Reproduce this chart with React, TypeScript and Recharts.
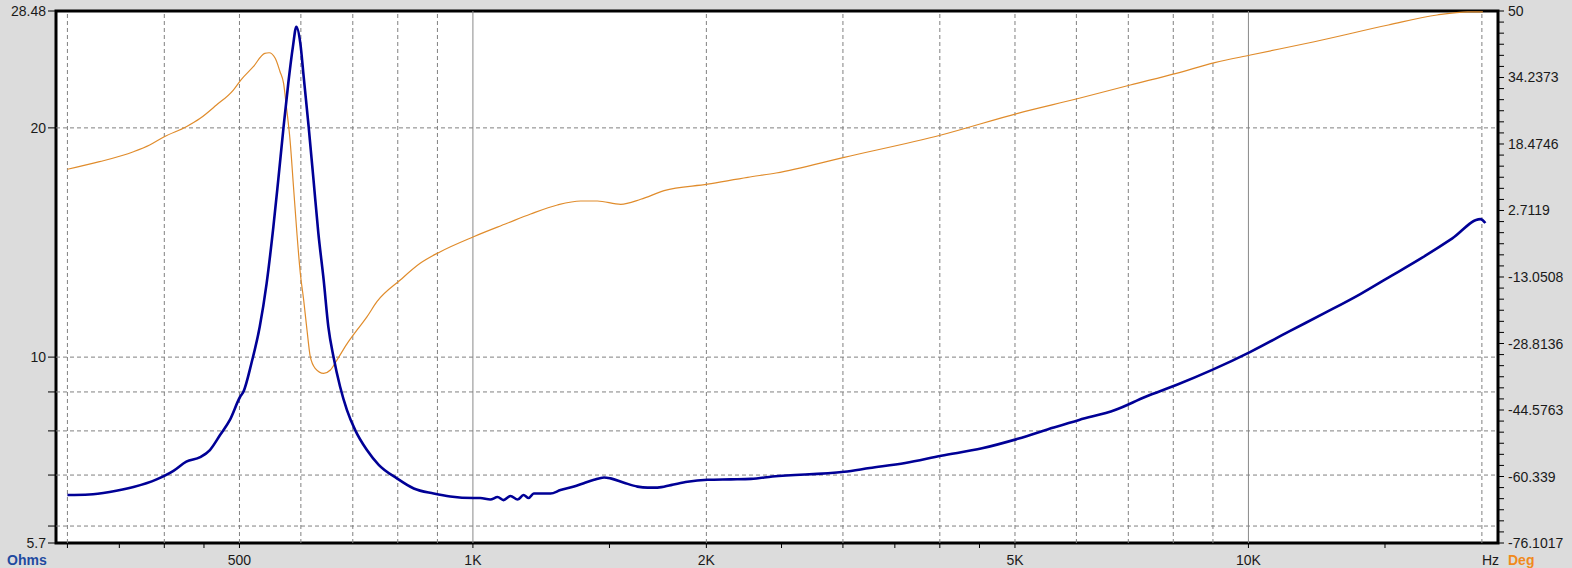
import React from 'react';
import {
    LineChart,
    Line,
    XAxis,
    YAxis,
    CartesianGrid,
    ReferenceLine,
    ReferenceArea
} from 'recharts';

// impedance curve (Ohms)
const impFreq = [
    300, 320, 340, 365, 391, 411, 427, 445, 458, 472,
    486, 501, 506, 518, 531, 542, 553, 561, 570, 578,
    586, 592, 599, 605, 614, 623, 632, 642, 651, 661,
    674, 688, 705, 730, 756, 798, 839, 890, 935, 1002,
    1022, 1053, 1076, 1095, 1118, 1142, 1162, 1180, 1198, 1259,
    1297, 1350, 1390, 1433, 1476, 1505, 1566, 1630, 1680, 1730,
    1800, 1891, 2007, 2151, 2283, 2433, 3011, 3248, 3610, 4016,
    4535, 5042, 5608, 6050, 6729, 7369, 8072, 8979, 10060, 11270,
    12530, 13940, 15150, 16730, 18320, 19910, 20210
];
const impOhms = [
    6.59, 6.6, 6.65, 6.75, 6.91, 7.09, 7.29, 7.39, 7.55, 7.9,
    8.27, 8.87, 9.01, 9.81, 10.96, 12.5, 14.84, 17.08, 20.07, 22.89,
    25.57, 27.16, 25.84, 23.35, 20.07, 17.08, 14.54, 12.63, 10.96, 10.01,
    9.15, 8.52, 8.02, 7.55, 7.22, 6.93, 6.72, 6.62, 6.56, 6.53,
    6.53, 6.5, 6.55, 6.49, 6.57, 6.5, 6.59, 6.53, 6.62, 6.62,
    6.69, 6.76, 6.83, 6.9, 6.95, 6.93, 6.84, 6.76, 6.74, 6.74,
    6.79, 6.86, 6.9, 6.91, 6.92, 6.97, 7.07, 7.15, 7.26, 7.42,
    7.59, 7.81, 8.08, 8.27, 8.52, 8.87, 9.19, 9.62, 10.16, 10.8,
    11.42, 12.1, 12.72, 13.5, 14.32, 15.18, 15.0
];

// phase curve (degrees)
const phaseFreq = [
    300, 330, 365, 383, 400, 427, 445, 467, 491, 502,
    521, 539, 546, 556, 564, 570, 575, 581, 587, 593,
    599, 605, 611, 617, 626, 642, 655, 668, 688, 709,
    730, 752, 806, 855, 908, 1002, 1107, 1187, 1285, 1377,
    1447, 1551, 1646, 1764, 2007, 2261, 2460, 3011, 4016, 5042,
    6050, 7042, 8072, 9049, 10060, 12160, 15150, 17510, 19170, 20060
];
const phaseDeg = [
    12.48, 14.28, 16.65, 18.24, 20.21, 22.58, 24.57, 27.72, 31.27, 33.64,
    36.8, 39.97, 40.1, 38.79, 35.61, 32.86, 27.0, 19.42, 8.35, -2.69,
    -12.17, -18.5, -25.61, -31.94, -34.69, -35.88, -35.09, -32.72, -28.9, -25.6,
    -22.5, -18.9, -13.76, -9.8, -7.05, -3.5, -0.32, 1.88, 4.02, 4.96,
    4.96, 4.18, 5.37, 7.41, 8.95, 10.58, 11.6, 15.32, 20.61, 25.75,
    29.31, 32.46, 35.23, 37.75, 39.57, 42.72, 46.68, 49.05, 49.8, 49.8
];

const freqTicks = [300, 350, 400, 450, 500, 1000, 1500, 2000, 2500, 3000, 3500, 4000, 4500, 5000, 10000, 15000];
const freqLabels: Record<number, string> = { 500: '500', 1000: '1K', 2000: '2K', 5000: '5K', 10000: '10K' };
const freqGridDashed = [300, 400, 500, 600, 700, 800, 900, 2000, 3000, 4000, 5000, 6000, 7000, 8000, 9000, 20000];
const freqGridSolid = [1000, 10000];

const ohmTicks = [5.7, 6, 7, 8, 9, 10, 20, 28.48];
const ohmLabels: Record<string, string> = { '5.7': '5.7', '10': '10', '20': '20', '28.48': '28.48' };
const ohmGrid = [6, 7, 8, 9, 10, 20];

const degLabels = ['50', '34.2373', '18.4746', '2.7119', '-13.0508', '-28.8136', '-44.5763', '-60.339', '-76.1017'];

const impData = impFreq.map((f, i) => ({ f, z: impOhms[i] }));
const phaseData = phaseFreq.map((f, i) => ({ f, deg: phaseDeg[i] }));

// 5 minor ticks between the labelled degree ticks
const degMajors = degLabels.map(Number);
const degTicks: number[] = [];
degMajors.forEach((v, i) => {
    degTicks.push(v);
    if (i < degMajors.length - 1) {
        const step = (degMajors[i + 1] - v) / 6;
        for (let k = 1; k < 6; k++) degTicks.push(v + step * k);
    }
});

const FONT = "'Liberation Sans', Arial, sans-serif";
const GRID = '#808080';

const FreqTick = (props: any) => {
    const label = freqLabels[props.payload.value];
    if (!label) return <g />;
    return (
        <text x={props.x} y={props.y + 15} textAnchor="middle" fontSize={14} fontFamily={FONT} fill="#1a1a1a">
            {label}
        </text>
    );
};

const OhmTick = (props: any) => {
    const label = ohmLabels[String(props.payload.value)];
    if (!label) return <g />;
    return (
        <text x={props.x} y={props.y + 5} textAnchor="end" fontSize={14} fontFamily={FONT} fill="#1a1a1a">
            {label}
        </text>
    );
};

const DegTick = (props: any) => {
    if (props.index % 6 !== 0) return <g />;
    return (
        <text x={props.x} y={props.y + 5} textAnchor="start" fontSize={14} fontFamily={FONT} fill="#1a1a1a">
            {degLabels[props.index / 6]}
        </text>
    );
};

export default function App() {
    return (
        <div style={{ position: 'absolute', left: 0, top: 0, width: 1572, height: 568, background: '#dcdcdc', overflow: 'hidden' }}>
            <LineChart width={1572} height={568} margin={{ top: 11, right: 0, bottom: 0, left: 0 }}>
                <CartesianGrid yAxisId="left" fill="#fff" horizontal={false} vertical={false} />
                <XAxis
                    type="number"
                    dataKey="f"
                    scale="log"
                    domain={[290, 20980]}
                    allowDataOverflow
                    ticks={freqTicks}
                    interval={0}
                    height={25}
                    tickSize={5}
                    tickMargin={2}
                    axisLine={false}
                    tickLine={{ stroke: '#000' }}
                    tick={FreqTick}
                />
                <YAxis
                    yAxisId="left"
                    scale="log"
                    domain={[5.7, 28.48]}
                    allowDataOverflow
                    ticks={ohmTicks}
                    interval={0}
                    width={56}
                    tickSize={8}
                    tickMargin={2}
                    axisLine={false}
                    tickLine={{ stroke: '#000' }}
                    tick={OhmTick}
                />
                <YAxis
                    yAxisId="right"
                    orientation="right"
                    domain={[-76.1017, 50]}
                    allowDataOverflow
                    ticks={degTicks}
                    interval={0}
                    width={74}
                    tickSize={6}
                    tickMargin={4}
                    axisLine={false}
                    tickLine={{ stroke: '#000' }}
                    tick={DegTick}
                />
                {freqGridDashed.map((f) => (
                    <ReferenceLine key={`vx-${f}`} x={f} yAxisId="left" stroke={GRID} strokeDasharray="4 3" />
                ))}
                {freqGridSolid.map((f) => (
                    <ReferenceLine key={`vs-${f}`} x={f} yAxisId="left" stroke="#8a8a8a" />
                ))}
                {ohmGrid.map((v) => (
                    <ReferenceLine key={`h-${v}`} y={v} yAxisId="left" stroke={GRID} strokeDasharray="4 3" />
                ))}
                <Line
                    data={phaseData}
                    dataKey="deg"
                    yAxisId="right"
                    type="monotone"
                    stroke="#e08c2c"
                    strokeWidth={1.2}
                    dot={false}
                    isAnimationActive={false}
                />
                <Line
                    data={impData}
                    dataKey="z"
                    yAxisId="left"
                    type="monotone"
                    stroke="#000096"
                    strokeWidth={2.6}
                    dot={false}
                    isAnimationActive={false}
                />
                <ReferenceArea
                    x1={290}
                    x2={20980}
                    y1={5.7}
                    y2={28.48}
                    yAxisId="left"
                    fill="none"
                    stroke="#000"
                    strokeWidth={3}
                    ifOverflow="visible"
                />
            </LineChart>
            <div style={{ position: 'absolute', left: 7, top: 552, fontFamily: FONT, fontSize: 14, lineHeight: '16px', fontWeight: 700, color: '#1f4aa0' }}>
                Ohms
            </div>
            <div style={{ position: 'absolute', left: 1482, top: 552, fontFamily: FONT, fontSize: 14, lineHeight: '16px', color: '#1a1a1a' }}>
                Hz
            </div>
            <div style={{ position: 'absolute', left: 1508, top: 552, fontFamily: FONT, fontSize: 14, lineHeight: '16px', fontWeight: 700, color: '#f08a1c' }}>
                Deg
            </div>
        </div>
    );
}
